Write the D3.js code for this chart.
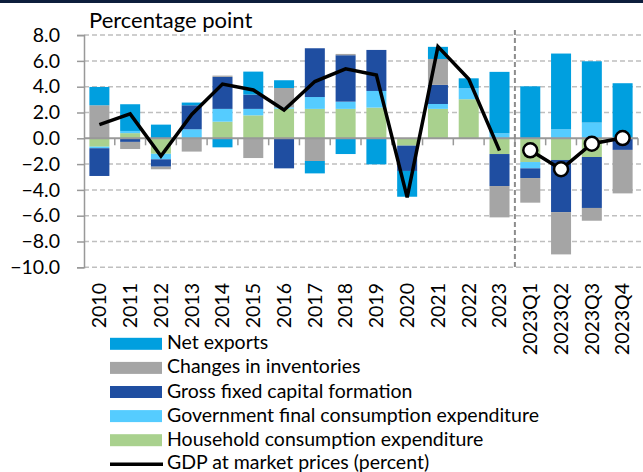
<!DOCTYPE html>
<html>
<head>
<meta charset="utf-8">
<script src="https://cdn.jsdelivr.net/npm/d3@7/dist/d3.min.js"></script>
<style>
  html, body { margin: 0; padding: 0; background: #fff; }
  svg { display: block; }
  text { font-family: Lato, "Open Sans", sans-serif; fill: #000; }
</style>
</head>
<body>
<svg id="chart" width="643" height="472"></svg>
<script>
const categories = ["2010","2011","2012","2013","2014","2015","2016","2017","2018","2019","2020","2021","2022","2023","2023Q1","2023Q2","2023Q3","2023Q4"];
const household   = [-0.65, 0.40, -1.20, 0.00, 1.29, 1.78, 2.30, 2.28, 2.28, 2.38, -0.57, 2.28, 3.03, -1.22, -1.84, -1.68, -1.45, 0.00];
const government  = [-0.12, 0.17, -0.43, 0.70, 0.99, 0.50, 0.10, 0.92, 0.56, 1.29, 0.00, 0.38, 0.85, 0.39, -0.49, 0.70, 1.22, 0.00];
const gfcf        = [-2.15, -0.28, -0.57, 1.86, 2.48, 1.11, -2.33, 3.78, 3.60, 3.18, -1.96, 1.48, 0.00, -2.48, -0.75, -4.04, -3.95, -0.90];
const inventories = [2.56, -0.55, -0.20, -1.03, 0.10, -1.53, 1.50, -1.76, 0.10, 0.00, 0.00, 2.01, 0.00, -2.43, -1.91, -3.28, -0.99, -3.37];
const netExports  = [1.42, 2.07, 1.06, 0.21, -0.70, 1.78, 0.60, -0.96, -1.22, -2.02, -2.00, 0.94, 0.77, 4.76, 4.03, 5.87, 4.75, 4.27];
const annualCats  = ["2010","2011","2012","2013","2014","2015","2016","2017","2018","2019","2020","2021","2022","2023"];
const gdpAnnual   = [1.06, 1.89, -1.37, 1.85, 4.20, 3.75, 2.20, 4.40, 5.38, 4.91, -4.58, 7.11, 4.60, -0.96];
const quarterCats = ["2023Q1","2023Q2","2023Q3","2023Q4"];
const gdpQuarter  = [-0.93, -2.40, -0.42, 0.02];
const yTicks      = [8, 6, 4, 2, 0, -2, -4, -6, -8, -10];
const seriesNames = ["Household consumption expenditure","Government final consumption expenditure","Gross fixed capital formation","Changes in inventories","Net exports"];
const lineName    = "GDP at market prices (percent)";
const yTitle      = "Percentage point";

const colors = ["#a9d18e", "#55ccff", "#1f4ea1", "#a5a5a5", "#009fdf"];
const seriesData = [household, government, gfcf, inventories, netExports];

const svg = d3.select("#chart");
const W = 643;

// top border
svg.append("rect").attr("x", 0).attr("y", 0).attr("width", W).attr("height", 3).attr("fill", "#0d1e3c");

const plotL = 84, plotR = 638, plotT = 35.1, plotB = 267.3;
const x = d3.scaleBand().domain(categories).range([plotL, plotR]).paddingInner(0.35).paddingOuter(0.175);
const y = d3.scaleLinear().domain([-10, 8]).range([plotB, plotT]);
const step = x.step(), bw = x.bandwidth();

// gridlines
svg.append("g").selectAll("line").data(yTicks.filter(d => d !== 0)).join("line")
  .attr("x1", plotL).attr("x2", 641)
  .attr("y1", d => y(d)).attr("y2", d => y(d))
  .attr("stroke", "#bfbfbf").attr("stroke-width", 1.5).attr("stroke-dasharray", "5,3");

// y axis
const yAxis = d3.axisLeft(y).tickValues(yTicks).tickSize(7).tickFormat(d3.format(".1f"));
const gy = svg.append("g").attr("transform", `translate(${plotL},0)`).call(yAxis);
gy.select(".domain").attr("stroke", "#999").attr("stroke-width", 1.5);
gy.selectAll(".tick line").attr("stroke", "#999").attr("stroke-width", 1.5);
gy.selectAll(".tick text").attr("x", -24).style("font-size", "19.5px").style("font-family", "Lato").attr("fill", "#000");

// stacked bars
const table = categories.map((c, i) => {
  const o = { cat: c };
  seriesData.forEach((s, k) => o["s" + k] = s[i]);
  return o;
});
const keys = seriesData.map((s, k) => "s" + k);
const stacked = d3.stack().keys(keys).offset(d3.stackOffsetDiverging)(table);

svg.append("g").selectAll("g").data(stacked).join("g")
  .attr("fill", (d, i) => colors[i])
  .selectAll("rect").data(d => d).join("rect")
  .attr("x", d => x(d.data.cat))
  .attr("width", bw)
  .attr("y", d => y(Math.max(d[0], d[1])))
  .attr("height", d => Math.abs(y(d[0]) - y(d[1])));

// zero axis line
svg.append("line").attr("x1", plotL).attr("x2", plotR).attr("y1", y(0)).attr("y2", y(0))
  .attr("stroke", "#999").attr("stroke-width", 2);

// x ticks at category boundaries
svg.append("g").selectAll("line").data(categories).join("line")
  .attr("x1", d => x(d) + bw + (step - bw) / 2).attr("x2", d => x(d) + bw + (step - bw) / 2)
  .attr("y1", y(0)).attr("y2", y(0) + 7)
  .attr("stroke", "#999").attr("stroke-width", 1.5);

// separator
const sepX = (x("2023") + bw + x("2023Q1")) / 2;
svg.append("line").attr("x1", sepX).attr("x2", sepX).attr("y1", 30).attr("y2", plotB + 1)
  .attr("stroke", "#8c8c8c").attr("stroke-width", 2).attr("stroke-dasharray", "5,3");

// GDP lines
const line = d3.line().x(d => x(d[0]) + bw / 2).y(d => y(d[1]));
svg.append("path").datum(annualCats.map((c, i) => [c, gdpAnnual[i]]))
  .attr("d", line).attr("fill", "none").attr("stroke", "#000").attr("stroke-width", 3.5).attr("stroke-linejoin", "miter");
const qData = quarterCats.map((c, i) => [c, gdpQuarter[i]]);
svg.append("path").datum(qData)
  .attr("d", line).attr("fill", "none").attr("stroke", "#000").attr("stroke-width", 3.5);
svg.append("g").selectAll("circle").data(qData).join("circle")
  .attr("cx", d => x(d[0]) + bw / 2).attr("cy", d => y(d[1])).attr("r", 7)
  .attr("fill", "#fff").attr("stroke", "#000").attr("stroke-width", 2.5);

// title
svg.append("text").attr("x", 89).attr("y", 28).style("font-size", "22px").text(yTitle);

// x labels
svg.append("g").selectAll("text").data(categories).join("text")
  .attr("transform", d => `translate(${x(d) + bw / 2},283) rotate(-90)`)
  .attr("text-anchor", "end").attr("dy", "0.35em")
  .style("font-size", "19.5px").text(d => d);

// legend
const legendItems = [
  { name: seriesNames[4], color: colors[4] },
  { name: seriesNames[3], color: colors[3] },
  { name: seriesNames[2], color: colors[2] },
  { name: seriesNames[1], color: colors[1] },
  { name: seriesNames[0], color: colors[0] },
  { name: lineName, line: true }
];
const lg = svg.append("g").selectAll("g").data(legendItems).join("g")
  .attr("transform", (d, i) => `translate(110,${343.8 + i * 24.1})`);
lg.filter(d => !d.line).append("rect").attr("x", 0).attr("y", -6).attr("width", 52).attr("height", 12).attr("fill", d => d.color);
lg.filter(d => d.line).append("line").attr("x1", 0).attr("x2", 53).attr("y1", 0).attr("y2", 0).attr("stroke", "#000").attr("stroke-width", 3.5);
lg.append("text").attr("x", 57).attr("y", d => d.line ? 4.5 : 5.5).style("font-size", "19.5px").text(d => d.name);
</script>
</body>
</html>
